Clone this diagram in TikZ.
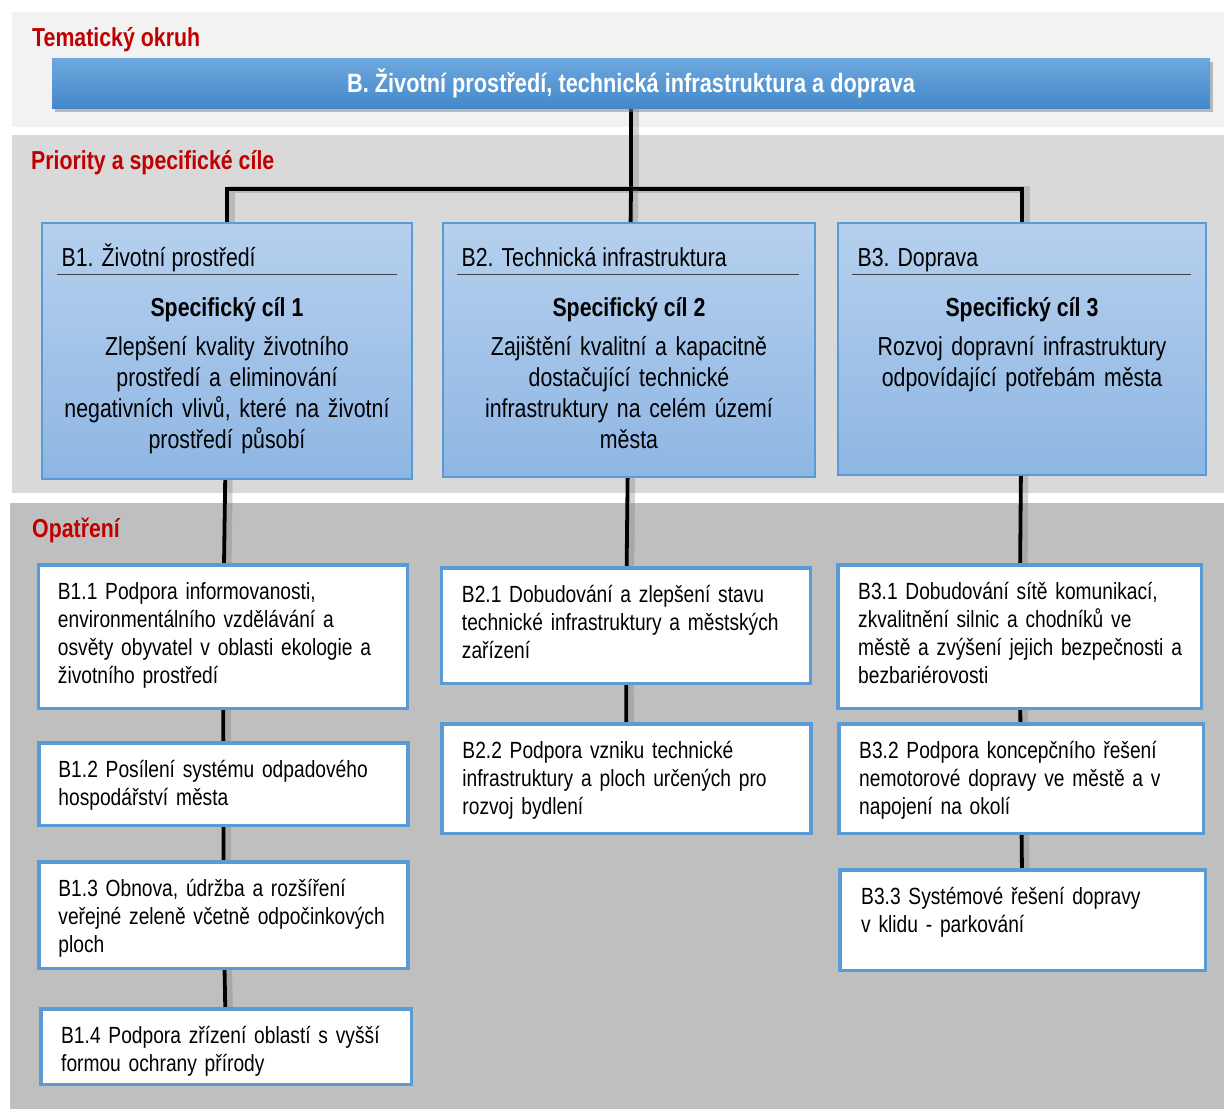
\documentclass[tikz,border=0pt]{standalone}
\usepackage{fontspec}
\setmainfont[FakeStretch=0.82]{Liberation Sans}
\usepackage{tikz}
\usetikzlibrary{shadows,backgrounds}
\definecolor{bandLight}{RGB}{242,242,242}
\definecolor{bandMid}{RGB}{217,217,217}
\definecolor{bandDark}{RGB}{191,191,191}
\definecolor{headRed}{RGB}{192,0,0}
\definecolor{barTop}{RGB}{110,168,222}
\definecolor{barBot}{RGB}{68,136,202}
\definecolor{prioTop}{RGB}{182,208,238}
\definecolor{prioBot}{RGB}{142,182,227}
\definecolor{edgeBlue}{RGB}{91,155,213}
% narrow word space to go with the condensed glyphs
\newcommand{\narrowsp}{\spaceskip=0.23em plus 0.04em minus 0.03em\relax}

\begin{document}
\begin{tikzpicture}[x=1pt, y=-1pt,
    sechead/.style={font=\fontsize{26}{31}\selectfont\bfseries\narrowsp, text=headRed, inner sep=0, anchor=base west},
    titlebar/.style={minimum width=1158pt, minimum height=50pt, top color=barTop, bottom color=barBot,
      text=white, font=\fontsize{26.5}{31}\selectfont\bfseries\narrowsp,
      drop shadow={shadow xshift=3pt, shadow yshift=-4pt, opacity=0.5}},
    prio/.style={draw=edgeBlue, line width=1.2pt, top color=prioTop, bottom color=prioBot, inner sep=0},
    priohead/.style={font=\fontsize{26}{31}\selectfont\narrowsp, inner sep=0, anchor=base west},
    goal/.style={font=\fontsize{26}{31}\selectfont\bfseries\narrowsp, inner sep=0, anchor=base},
    goaltext/.style={font=\fontsize{26}{31}\selectfont\narrowsp, text width=360pt, align=center, inner sep=0, anchor=base},
    headrule/.style={draw=black!75, line width=1.5pt},
    measure/.style={draw=edgeBlue, line width=3.5pt, fill=white, minimum width=369pt, inner sep=0},
    measuretext/.style={font=\fontsize{23.4}{28}\selectfont\narrowsp, text width=350pt, align=left, inner sep=0, anchor=base west},
    link/.style={line width=3.8pt, preaction={draw=black!55, line width=7pt, opacity=0.3, transform canvas={xshift=4pt}}}
  ]
  \useasboundingbox (0,0) rectangle (1224,1111);

  % section labels
  \node[sechead] (lblTheme) at (32,46) {Tematický okruh};
  \node[sechead] (lblPrio) at (31,169) {Priority a specifické cíle};
  \node[sechead] (lblMeasure) at (32,537) {Opatření};

  \node[titlebar] (theme) at (631,83) {B. Životní prostředí, technická infrastruktura a doprava};
  \coordinate (hub) at (631,189);

  % priorities
  \node[prio, minimum width=370pt, minimum height=256pt] (p1) at (227,351) {};
  \node[prio, minimum width=372pt, minimum height=254pt] (p2) at (629,350) {};
  \node[prio, minimum width=368pt, minimum height=252pt] (p3) at (1022,349) {};

  \node[priohead] (p1h) at ([shift={(20,44)}]p1.north west) {B1. Životní prostředí};
  \node[priohead] (p2h) at ([shift={(19,44)}]p2.north west) {B2. Technická infrastruktura};
  \node[priohead] (p3h) at ([shift={(20,44)}]p3.north west) {B3. Doprava};
  \draw[headrule] ([shift={(16,52)}]p1.north west) -- ([shift={(-16,52)}]p1.north east);
  \draw[headrule] ([shift={(15,52)}]p2.north west) -- ([shift={(-17,52)}]p2.north east);
  \draw[headrule] ([shift={(15,52)}]p3.north west) -- ([shift={(-16,52)}]p3.north east);

  \node[goal] (p1g) at ([shift={(0,94)}]p1.north) {Specifický cíl 1};
  \node[goal] (p2g) at ([shift={(0,94)}]p2.north) {Specifický cíl 2};
  \node[goal] (p3g) at ([shift={(0,94)}]p3.north) {Specifický cíl 3};
  \node[goaltext] (p1d) at ([shift={(0,133)}]p1.north) {Zlepšení kvality životního\\prostředí a eliminování\\negativních vlivů, které na životní\\prostředí působí};
  \node[goaltext] (p2d) at ([shift={(0,133)}]p2.north) {Zajištění kvalitní a kapacitně\\dostačující technické\\infrastruktury na celém území\\města};
  \node[goaltext] (p3d) at ([shift={(0,133)}]p3.north) {Rozvoj dopravní infrastruktury\\odpovídající potřebám města};

  % measures B1
  \node[measure, minimum height=143.5pt] (b11) at (223,636.5) {};
  \node[measure, minimum height=82.5pt] (b12) at (223.5,784) {};
  \node[measure, minimum height=106.5pt] (b13) at (223.5,915) {};
  \node[measure, minimum width=370.5pt, minimum height=75.5pt] (b14) at (226,1046.5) {};
  % measures B2
  \node[measure, minimum height=115.5pt] (b21) at (626,625.5) {};
  \node[measure, minimum height=109.5pt] (b22) at (626.5,778.5) {};
  % measures B3
  \node[measure, minimum width=363.5pt, minimum height=143.5pt] (b31) at (1019.5,636.5) {};
  \node[measure, minimum width=364.5pt, minimum height=109.5pt] (b32) at (1021,778.5) {};
  \node[measure, minimum width=365.5pt, minimum height=100.5pt] (b33) at (1022.5,920) {};

  \node[measuretext] (b11t) at ([shift={(21,36)}]b11.north west) {B1.1 Podpora informovanosti,\\environmentálního vzdělávání a\\osvěty obyvatel v oblasti ekologie a\\životního prostředí};
  \node[measuretext] (b12t) at ([shift={(21,36)}]b12.north west) {B1.2 Posílení systému odpadového\\hospodářství města};
  \node[measuretext] (b13t) at ([shift={(21,36)}]b13.north west) {B1.3 Obnova, údržba a rozšíření\\veřejné zeleně včetně odpočinkových\\ploch};
  \node[measuretext] (b14t) at ([shift={(22,36)}]b14.north west) {B1.4 Podpora zřízení oblastí s vyšší\\formou ochrany přírody};
  \node[measuretext] (b21t) at ([shift={(22,36)}]b21.north west) {B2.1 Dobudování a zlepšení stavu\\technické infrastruktury a městských\\zařízení};
  \node[measuretext] (b22t) at ([shift={(22,36)}]b22.north west) {B2.2 Podpora vzniku technické\\infrastruktury a ploch určených pro\\rozvoj bydlení};
  \node[measuretext] (b31t) at ([shift={(22,36)}]b31.north west) {B3.1 Dobudování sítě komunikací,\\zkvalitnění silnic a chodníků ve\\městě a zvýšení jejich bezpečnosti a\\bezbariérovosti};
  \node[measuretext] (b32t) at ([shift={(22,36)}]b32.north west) {B3.2 Podpora koncepčního řešení\\nemotorové dopravy ve městě a v\\napojení na okolí};
  \node[measuretext] (b33t) at ([shift={(23,36)}]b33.north west) {B3.3 Systémové řešení dopravy\\v klidu - parkování};

  \begin{scope}[on background layer]
    % bands
    \fill[bandLight] (12,12) rectangle (1224,127);
    \fill[bandMid] (12,135) rectangle (1224,493);
    \fill[bandDark] (10,503) rectangle (1224,1109);
    % connectors
    \draw[link] (theme) -- (hub);
    \draw[link] (p1) |- (hub) -| (p3);
    \draw[link] (hub) -- (p2);
    \draw[link] (p1) -- (b11) -- (b12) -- (b13) -- (b14);
    \draw[link] (p2) -- (b21) -- (b22);
    \draw[link] (p3) -- (b31) -- (b32) -- (b33);
  \end{scope}
\end{tikzpicture}
\end{document}
